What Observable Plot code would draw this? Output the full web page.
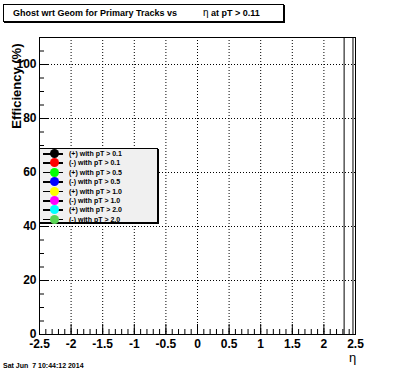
<!DOCTYPE html>
<html><head><meta charset="utf-8">
<script src="https://cdn.jsdelivr.net/npm/d3@7"></script>
<script src="https://cdn.jsdelivr.net/npm/@observablehq/plot@0.6"></script>
<style>
body{margin:0;background:#fff;}
#wrap{position:relative;width:396px;height:372px;overflow:hidden;font-family:"Liberation Sans",Arial,Helvetica,sans-serif;}
#wrap svg{position:absolute;left:0;top:0;}
#title{position:absolute;left:3px;top:4px;width:279px;height:16px;border:1px solid #000;box-shadow:1px 1px 0 #000;background:#fff;}
#title span{position:absolute;top:0;line-height:16px;font-size:9px;font-weight:bold;white-space:pre;}
#legend{position:absolute;left:39px;top:148px;width:117px;height:73px;border:1px solid #000;box-shadow:1px 1px 0 #000;background:#f0f0f0;}
.row{position:absolute;left:0;width:117px;height:9px;}
.row .ln{position:absolute;left:3px;top:4px;width:20px;height:1.5px;background:#000;}
.row .mk{position:absolute;left:10px;top:0px;width:9px;height:9px;border-radius:50%;}
.row .tx{position:absolute;left:29px;top:0;line-height:9px;font-size:7px;font-weight:bold;white-space:pre;}
#date{position:absolute;left:3px;top:361px;font-size:7px;font-weight:bold;white-space:pre;line-height:9px;}
</style></head><body><div id="wrap"></div>
<script>
const xMajorTicks = [-2.5, -2, -1.5, -1, -0.5, 0, 0.5, 1, 1.5, 2, 2.5];
const xMinorTicks = d3.range(-25, 26).map(d => d / 10);
const yMajorTicks = [0, 20, 40, 60, 80, 100];
const yMinorTicks = d3.range(0, 111, 5);
const edgeLines = [2.32, 2.46];
const legendLabels = ["(+) with pT > 0.1", "(-) with pT > 0.1", "(+) with pT > 0.5", "(-) with pT > 0.5",
  "(+) with pT > 1.0", "(-) with pT > 1.0", "(+) with pT > 2.0", "(-) with pT > 2.0"];
const legendColors = ["#000000", "#ff0000", "#00ff00", "#0000ff", "#ffff00", "#ff00ff", "#00ffff", "#59d454"];
const titleLeft = "Ghost wrt Geom for Primary Tracks vs";
const titleRight = "\u03b7 at pT > 0.11";
const yLabel = "Efficiency (%)";
const xLabel = "\u03b7";
const dateText = "Sat Jun  7 10:44:12 2014";

const font = {fontSize: 12, fontWeight: "bold"};
const chart = Plot.plot({
  width: 396, height: 372,
  marginLeft: 39, marginRight: 41, marginTop: 37, marginBottom: 38,
  style: {fontFamily: '"Liberation Sans", Arial, sans-serif', background: "transparent", color: "#000"},
  x: {domain: [-2.5, 2.5]},
  y: {domain: [0, 110]},
  marks: [
    Plot.gridX(xMajorTicks, {stroke: "#000", strokeOpacity: 1, strokeDasharray: "1,2"}),
    Plot.gridY(yMajorTicks, {stroke: "#000", strokeOpacity: 1, strokeDasharray: "1,2"}),
    Plot.axisX(xMinorTicks, {tickSize: -5, fill: "none", label: null}),
    Plot.axisX(xMajorTicks, {tickSize: -10, fill: "none", label: null}),
    Plot.axisX(xMajorTicks, {tickSize: 0, tickPadding: 5, label: null, tickFormat: d => String(d), ...font}),
    Plot.axisY(yMinorTicks, {tickSize: -5, fill: "none", label: null}),
    Plot.axisY(yMajorTicks, {tickSize: -9, fill: "none", label: null}),
    Plot.axisY(yMajorTicks, {tickSize: 0, tickPadding: 3, label: null, ...font}),
    Plot.ruleX(edgeLines, {stroke: "#000"}),
    Plot.frame({stroke: "#000"}),
    Plot.text([yLabel], {frameAnchor: "top-left", rotate: -90, textAnchor: "end", lineAnchor: "middle", dx: -23, dy: 6, fontSize: 13, fontWeight: "bold"}),
    Plot.text([xLabel], {frameAnchor: "bottom-right", textAnchor: "middle", lineAnchor: "middle", dx: -3, dy: 23, fontSize: 13})
  ]
});
const wrap = document.getElementById("wrap");
wrap.appendChild(chart);

const title = document.createElement("div");
title.id = "title";
title.innerHTML = `<span style="left:9px">${titleLeft}</span><span style="left:199px"></span>`;
title.lastChild.innerHTML = `<span style="position:static;font-weight:normal;font-size:10px">\u03b7</span>${titleRight.slice(1).replace(/>/g, "&gt;")}`;
wrap.appendChild(title);

const legend = document.createElement("div");
legend.id = "legend";
legendLabels.forEach((lab, i) => {
  const r = document.createElement("div");
  r.className = "row";
  r.style.top = (0 + 9.4 * i) + "px";
  r.innerHTML = `<div class="ln"></div><div class="mk" style="background:${legendColors[i]}"></div><div class="tx"></div>`;
  r.querySelector(".tx").textContent = lab;
  legend.appendChild(r);
});
wrap.appendChild(legend);

const date = document.createElement("div");
date.id = "date";
date.textContent = dateText;
wrap.appendChild(date);
</script>
</body></html>
